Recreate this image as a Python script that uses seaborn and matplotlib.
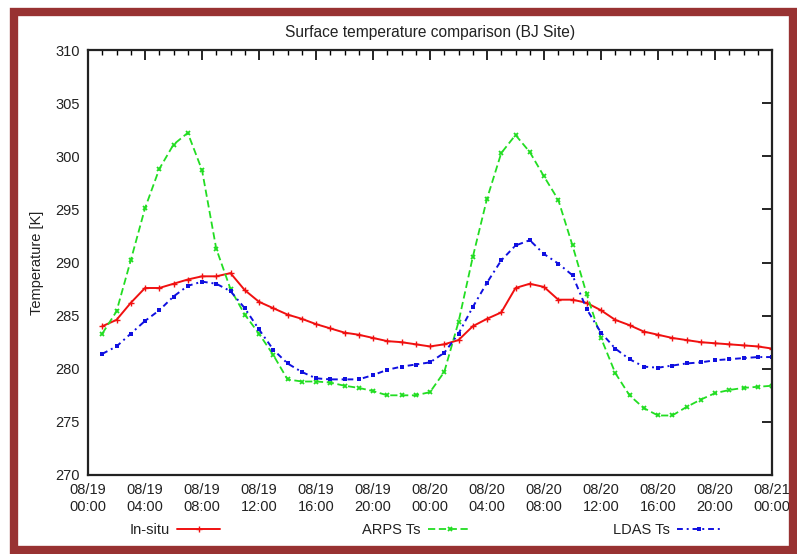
import matplotlib
matplotlib.use('Agg')
import pandas as pd
import matplotlib.pyplot as plt
import seaborn as sns
from matplotlib.ticker import MultipleLocator
from matplotlib.patches import Rectangle

# hours after 08/19 00:00
hours = list(range(1, 49))

in_situ = [284.0, 284.6, 286.2, 287.6, 287.6, 288.0, 288.4, 288.7, 288.7, 289.0,
           287.4, 286.3, 285.7, 285.1, 284.7, 284.2, 283.8, 283.4, 283.2, 282.9,
           282.6, 282.5, 282.3, 282.1, 282.3, 282.7, 284.0, 284.7, 285.3, 287.6,
           288.0, 287.7, 286.5, 286.5, 286.2, 285.5, 284.6, 284.1, 283.5, 283.2,
           282.9, 282.7, 282.5, 282.4, 282.3, 282.2, 282.1, 281.9]

arps_ts = [283.3, 285.4, 290.2, 295.1, 298.8, 301.1, 302.2, 298.7, 291.3, 287.5,
           285.1, 283.3, 281.3, 279.0, 278.8, 278.8, 278.7, 278.4, 278.2, 277.9,
           277.5, 277.5, 277.5, 277.8, 279.7, 284.4, 290.5, 296.0, 300.3, 302.0,
           300.4, 298.1, 295.9, 291.6, 287.0, 282.9, 279.6, 277.5, 276.3, 275.6,
           275.6, 276.4, 277.1, 277.7, 278.0, 278.2, 278.3, 278.4]

ldas_ts = [281.4, 282.1, 283.3, 284.5, 285.5, 286.8, 287.8, 288.2, 288.0, 287.3,
           285.7, 283.7, 281.8, 280.5, 279.7, 279.1, 279.0, 279.0, 279.0, 279.4,
           279.9, 280.2, 280.4, 280.6, 281.5, 283.3, 285.8, 288.1, 290.2, 291.6,
           292.1, 290.8, 289.9, 288.8, 285.6, 283.4, 281.9, 280.9, 280.2, 280.1,
           280.3, 280.5, 280.6, 280.8, 280.9, 281.0, 281.1, 281.1]

tick_hours = [0, 4, 8, 12, 16, 20, 24, 28, 32, 36, 40, 44, 48]
tick_labels = ['08/19\n00:00', '08/19\n04:00', '08/19\n08:00', '08/19\n12:00',
               '08/19\n16:00', '08/19\n20:00', '08/20\n00:00', '08/20\n04:00',
               '08/20\n08:00', '08/20\n12:00', '08/20\n16:00', '08/20\n20:00',
               '08/21\n00:00']

df = pd.DataFrame({'hour': hours, 'In-situ': in_situ,
                   'ARPS Ts': arps_ts, 'LDAS Ts': ldas_ts})

sns.set_style('white')
plt.rcParams['font.family'] = ['Liberation Sans', 'DejaVu Sans']
plt.rcParams['font.size'] = 10.5

fig = plt.figure(figsize=(7.97, 5.54), dpi=100)
ax = fig.add_axes([88 / 797, 1 - 475 / 554, (772 - 88) / 797, (475 - 50) / 554])

red, green, blue = '#f01010', '#22dd22', '#1010e0'
sns.lineplot(data=df, x='hour', y='In-situ', ax=ax, color=red, lw=1.4, ls='-',
             marker='+', markersize=5, mew=1.0, mec=red, label='In-situ')
sns.lineplot(data=df, x='hour', y='ARPS Ts', ax=ax, color=green, lw=1.3,
             marker='x', markersize=3.5, mew=1.3, mec=green, dashes=(4, 2),
             label='ARPS Ts')
sns.lineplot(data=df, x='hour', y='LDAS Ts', ax=ax, color=blue, lw=1.4,
             marker='s', markersize=3.5, mew=0, mec=blue, dashes=(3, 2, 1, 2),
             label='LDAS Ts')

ax.set_xlim(0, 48)
ax.set_ylim(270, 310)
ax.set_xticks(tick_hours)
ax.set_xticklabels(tick_labels)
ax.xaxis.set_minor_locator(MultipleLocator(1))
ax.set_yticks(range(270, 311, 5))
ax.tick_params(axis='both', which='both', direction='in', top=True, right=True,
               colors='black', labelcolor='#222222')
ax.tick_params(which='major', length=7, width=1.2, pad=6)
ax.tick_params(which='minor', length=3.5, width=1.0)
for s in ax.spines.values():
    s.set_color('#222222')
    s.set_linewidth(1.6)

ax.set_xlabel('')
ax.set_ylabel('Temperature [K]', color='#222222', labelpad=8)
ax.set_title('Surface temperature comparison (BJ Site)', color='#222222',
             fontsize=11.2, pad=9)

handles, labels = ax.get_legend_handles_labels()
ax.get_legend().remove()
fig.legend(handles, labels, loc='center', bbox_to_anchor=(425 / 797, 1 - 530 / 554),
           ncol=3, frameon=False, markerfirst=False, handlelength=3.0,
           handletextpad=0.5, columnspacing=9.7, labelcolor='#222222')

# dark red frame around the whole picture
fig.patches.append(Rectangle((13.5 / 797, 1 - 549.5 / 554), (793 - 13.5) / 797,
                             (549.5 - 12) / 554, transform=fig.transFigure,
                             fill=False, edgecolor='#983232', lw=6))

fig.savefig('out.png', dpi=100)
